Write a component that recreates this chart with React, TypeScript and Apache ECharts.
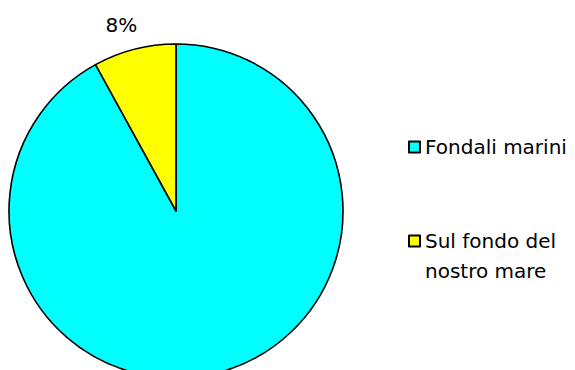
import React, { useEffect, useRef } from "react";
import * as echarts from "echarts";

const categories = ["Fondali marini", "Sul fondo del nostro mare"];
const legendLabels = ["Fondali marini", "\nSul fondo del\nnostro mare"];
const values = [92, 8];
const colors = ["#00FFFF", "#FFFF00"];
const showLabel = [false, true];

export default function App() {
  const ref = useRef<HTMLDivElement>(null);
  useEffect(() => {
    document.body.style.margin = "0";
    const chart = echarts.init(ref.current!, null, { renderer: "svg" });
    const font = "'DejaVu Sans', Verdana, sans-serif";
    chart.setOption({
      animation: false,
      backgroundColor: "#ffffff",
      legend: [
        {
          data: [categories[0]],
          orient: "vertical",
          left: 408,
          top: 133,
          padding: 0,
          icon: "rect",
          itemWidth: 11,
          itemHeight: 11,
          selectedMode: false,
          formatter: () => legendLabels[0],
          textStyle: { fontFamily: font, fontSize: 20, color: "#000", lineHeight: 28 },
        },
        {
          data: [categories[1]],
          orient: "vertical",
          left: 408,
          top: 196,
          padding: 0,
          icon: "rect",
          itemWidth: 11,
          itemHeight: 11,
          selectedMode: false,
          formatter: () => legendLabels[1],
          textStyle: {
            fontFamily: font,
            fontSize: 20,
            color: "#000",
            lineHeight: 30,
          },
        },
      ],
      series: [
        {
          type: "pie",
          center: [176, 211],
          radius: 167,
          startAngle: 90,
          clockwise: true,
          avoidLabelOverlap: false,
          emphasis: { disabled: true },
          itemStyle: { borderColor: "#000", borderWidth: 1.6 },
          label: {
            position: "outside",
            formatter: (p: any) => Math.round(p.percent) + "%",
            fontFamily: font,
            fontSize: 20,
            color: "#000",
            distanceToLabelLine: -9,
          },
          labelLine: { show: false, length: 25, length2: 0 },
          data: categories.map((name, i) => ({
            name,
            value: values[i],
            itemStyle: { color: colors[i] },
            label: { show: showLabel[i] },
          })),
        },
      ],
    });
    return () => chart.dispose();
  }, []);
  return <div ref={ref} style={{ width: 575, height: 370 }} />;
}
